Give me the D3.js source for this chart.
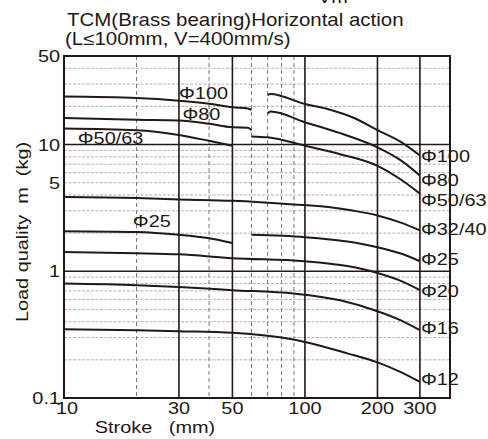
<!DOCTYPE html>
<html>
<head>
<meta charset="utf-8">
<script src="https://cdn.jsdelivr.net/npm/d3@7"></script>
<style>
    body { margin: 0; background: #fff; }
    text { font-family: "Liberation Sans", Arial, sans-serif; fill: #231815; white-space: pre; }
</style>
</head>
<body>
<svg id="chart" width="488" height="439"></svg>
<script>
// axis ticks and grid
const xTicks = [10, 30, 50, 100, 200, 300];
const yTicks = [0.1, 1, 5, 10, 50];
const xGridSolid = [30, 50, 100, 200, 300];
const xGridDashed = [20, 40, 60, 70, 80, 90];
const yGridSolid = [1, 10];
const yGridDashed = [0.2, 0.3, 0.4, 0.5, 0.6, 0.7, 0.8, 0.9, 2, 3, 4, 5, 6, 7, 8, 9, 20, 30, 40];

// curves: [stroke mm, load kg], split where the chart breaks the line
const phi100 = [
    [[10, 23.9], [20, 23.3], [30, 22.2], [40, 21.0], [50, 19.7], [58, 19.3], [60, 18.8]],
    [[70, 24.6], [72, 25.1], [100, 20.9], [125, 19.0], [160, 16.2], [200, 13.0], [250, 10.5], [300, 8.2]]
];
const phi80 = [
    [[10, 16.2], [20, 15.7], [30, 15.5], [40, 14.6], [50, 13.7], [58, 13.6], [60, 13.0]],
    [[70, 17.6], [72, 18.2], [100, 15.0], [140, 12.3], [200, 9.5], [250, 7.5], [300, 5.7]]
];
const phi50 = [
    [[10, 13.4], [20, 13.0], [30, 11.9], [40, 10.7], [50, 9.8]],
    [[60, 11.6], [70, 11.4], [100, 9.8], [140, 8.4], [200, 6.8], [250, 5.3], [300, 4.1]]
];
const phi32 = [
    [[10, 3.85], [20, 3.78], [30, 3.69], [50, 3.6], [90, 3.37], [125, 3.21], [160, 3.0], [200, 2.76], [250, 2.42], [300, 2.10]]
];
const phi25 = [
    [[10, 2.07], [20, 2.04], [30, 1.94], [40, 1.82], [50, 1.67]],
    [[60, 1.94], [100, 1.86], [150, 1.72], [200, 1.55], [250, 1.38], [300, 1.20]]
];
const phi20 = [
    [[10, 1.42], [20, 1.39], [30, 1.36], [50, 1.27], [100, 1.20], [150, 1.10], [200, 0.97], [250, 0.84], [300, 0.71]]
];
const phi16 = [
    [[10, 0.80], [20, 0.776], [30, 0.75], [50, 0.71], [90, 0.667], [140, 0.59], [200, 0.484], [250, 0.41], [300, 0.343]]
];
const phi12 = [
    [[10, 0.348], [20, 0.343], [30, 0.337], [50, 0.327], [80, 0.30], [100, 0.277], [150, 0.225], [200, 0.191], [250, 0.16], [300, 0.134]]
];
const curves = [phi100, phi80, phi50, phi32, phi25, phi20, phi16, phi12];

// curve labels
const rightLabels = ["Φ100", "Φ80", "Φ50/63", "Φ32/40", "Φ25", "Φ20", "Φ16", "Φ12"];
const rightLabelY = [8.13, 5.26, 3.65, 2.16, 1.25, 0.703, 0.357, 0.1405];
const leftLabels = ["Φ100", "Φ80", "Φ50/63", "Φ25"];
const leftLabelPos = [[30, 25.7], [31, 17.4], [11.4, 11.3], [19.3, 2.51]];

const ink = "#231815";
const stretch = 1.17;   // the original lettering is wider than Arial

const svg = d3.select("#chart");
const x = d3.scaleLog().domain([10, 400]).range([64, 450]);
const y = d3.scaleLog().domain([0.1, 50]).range([398, 56]);

function addText(str, px, py, anchor, size)
{
    return svg.append("text")
        .attr("transform", `translate(${px},${py}) scale(${stretch},1)`)
        .attr("text-anchor", anchor)
        .style("font-size", size + "px")
        .text(str);
}

// dashed grid
svg.append("g").selectAll("line")
    .data(yGridDashed)
    .join("line")
    .attr("x1", x(10)).attr("x2", x(400))
    .attr("y1", d => y(d)).attr("y2", d => y(d))
    .attr("stroke", "#a8a8a8")
    .attr("stroke-width", 0.9)
    .attr("stroke-dasharray", "3,1.5");

svg.append("g").selectAll("line")
    .data(xGridDashed)
    .join("line")
    .attr("x1", d => x(d)).attr("x2", d => x(d))
    .attr("y1", y(50)).attr("y2", y(0.1))
    .attr("stroke", "#777")
    .attr("stroke-width", 1)
    .attr("stroke-dasharray", "4,3");

// solid grid
svg.append("g").selectAll("line")
    .data(yGridSolid)
    .join("line")
    .attr("x1", x(10)).attr("x2", x(400))
    .attr("y1", d => y(d)).attr("y2", d => y(d))
    .attr("stroke", ink)
    .attr("stroke-width", 1.6);

svg.append("g").selectAll("line")
    .data(xGridSolid)
    .join("line")
    .attr("x1", d => x(d)).attr("x2", d => x(d))
    .attr("y1", y(50)).attr("y2", y(0.1))
    .attr("stroke", ink)
    .attr("stroke-width", 1.6);

// frame
svg.append("rect")
    .attr("x", x(10)).attr("y", y(50))
    .attr("width", x(400) - x(10))
    .attr("height", y(0.1) - y(50))
    .attr("fill", "none")
    .attr("stroke", ink)
    .attr("stroke-width", 2);

// curves
const line = d3.line()
    .x(d => x(d[0]))
    .y(d => y(d[1]))
    .curve(d3.curveMonotoneX);

svg.append("g").selectAll("path")
    .data(curves.flat())
    .join("path")
    .attr("d", line)
    .attr("fill", "none")
    .attr("stroke", ink)
    .attr("stroke-width", 2);

// labels on the curves
rightLabels.forEach((t, i) => {
    addText(t, x(300) + 1, y(rightLabelY[i]), "start", 17).attr("dy", "0.36em");
});
leftLabels.forEach((t, i) => {
    addText(t, x(leftLabelPos[i][0]), y(leftLabelPos[i][1]), "start", 17).attr("dy", "0.36em");
});

// tick labels
xTicks.forEach(d => {
    addText(d3.format("d")(d), x(d) + (d === 10 ? 3 : 0), 414, "middle", 17);
});
yTicks.forEach(d => {
    addText(String(d), 60, y(d), "end", 17).attr("dy", "0.36em");
});

// titles
addText("Vm", 318, 3, "start", 17);
addText("TCM(Brass bearing)Horizontal action", 67, 26, "start", 17.5);
addText("(L\u2264100mm, V=400mm/s)", 65, 45, "start", 17.5);
addText("Stroke   (mm)", 155, 433, "middle", 17);

svg.append("text")
    .attr("transform", `translate(28,232) rotate(-90) scale(${stretch},1)`)
    .attr("text-anchor", "middle")
    .style("font-size", "17px")
    .text("Load quality  m  (kg)");
</script>
</body>
</html>
